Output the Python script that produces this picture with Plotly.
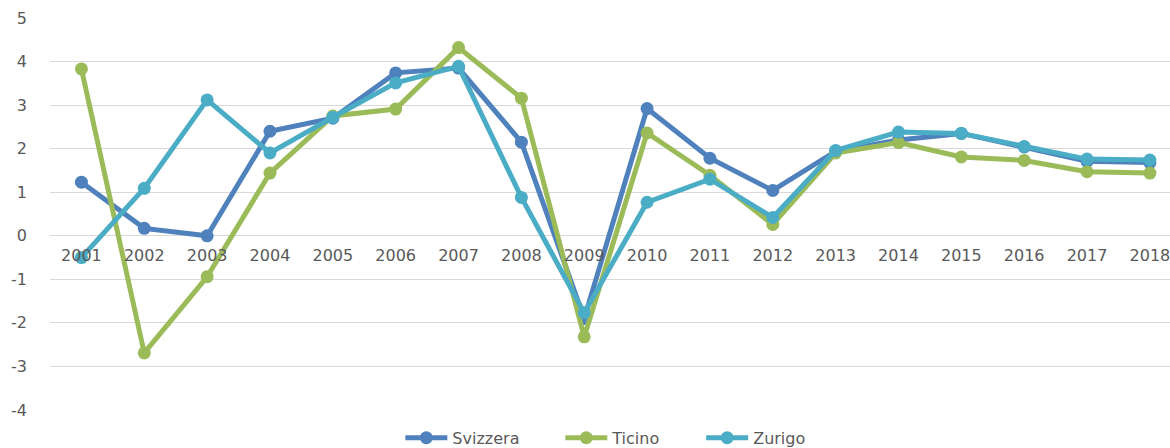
import plotly.graph_objects as go

anni = [str(a) for a in range(2001, 2019)]
y_tick = [5, 4, 3, 2, 1, 0, -1, -2, -3, -4]
y_tick_label = ["5", "4", "3", "2", "1", "0", "-1", "-2", "-3", "-4"]

svizzera = [1.23, 0.17, 0.0, 2.40, 2.70, 3.74, 3.85, 2.15, -1.90, 2.92, 1.78, 1.04,
            1.94, 2.20, 2.35, 2.04, 1.71, 1.68]
ticino = [3.83, -2.69, -0.94, 1.44, 2.75, 2.91, 4.32, 3.16, -2.32, 2.36, 1.39, 0.26,
          1.90, 2.14, 1.81, 1.73, 1.47, 1.44]
zurigo = [-0.50, 1.09, 3.12, 1.90, 2.72, 3.51, 3.89, 0.88, -1.77, 0.77, 1.30, 0.42,
          1.96, 2.38, 2.35, 2.05, 1.76, 1.74]

serie = [
    ("Svizzera", svizzera, "#4F81BD"),
    ("Ticino", ticino, "#9BBB59"),
    ("Zurigo", zurigo, "#4BACC6"),
]

grigio = "#595959"

# una legenda per serie, così si possono distanziare come nell'originale
leg_x = [0.3128, 0.4556, 0.5814]

fig = go.Figure()
for i, (nome, valori, colore) in enumerate(serie):
    fig.add_trace(
        go.Scatter(x=anni, y=valori, name=nome, mode="lines+markers",
                   line=dict(color=colore, width=5),
                   marker=dict(color=colore, size=13),
                   legend="legend" if i == 0 else "legend%d" % (i + 1))
    )

legende = {}
for i, lx in enumerate(leg_x):
    key = "legend" if i == 0 else "legend%d" % (i + 1)
    legende[key] = dict(orientation="h", x=lx, xanchor="left", y=-0.071, yanchor="middle",
                        font=dict(size=16, color=grigio), bgcolor="rgba(0,0,0,0)",
                        itemwidth=42)

fig.update_layout(
    width=1170, height=448,
    margin=dict(l=49.5, r=0, t=18, b=38, autoexpand=False),
    paper_bgcolor="white", plot_bgcolor="white",
    font=dict(family="DejaVu Sans, sans-serif", size=16, color=grigio),
    showlegend=True,
    xaxis=dict(
        type="category", range=[-0.5, 17.32],
        showgrid=False, showline=False, zeroline=False, ticks="",
        anchor="free", position=4 / 9, ticklabelstandoff=8,
        tickfont=dict(size=16, color=grigio),
    ),
    yaxis=dict(
        range=[-4, 5], tickvals=y_tick, ticktext=y_tick_label,
        showgrid=True, gridcolor="#d9d9d9", gridwidth=1,
        zeroline=False, showline=False, ticks="", ticklabelstandoff=22,
        tickfont=dict(size=16, color=grigio),
    ),
    **legende,
)

# niente margine del body, il grafico parte dall'angolo in alto a sinistra
fig.write_html("out.html", config={"displayModeBar": False},
               post_script="document.body.style.margin='0';")
